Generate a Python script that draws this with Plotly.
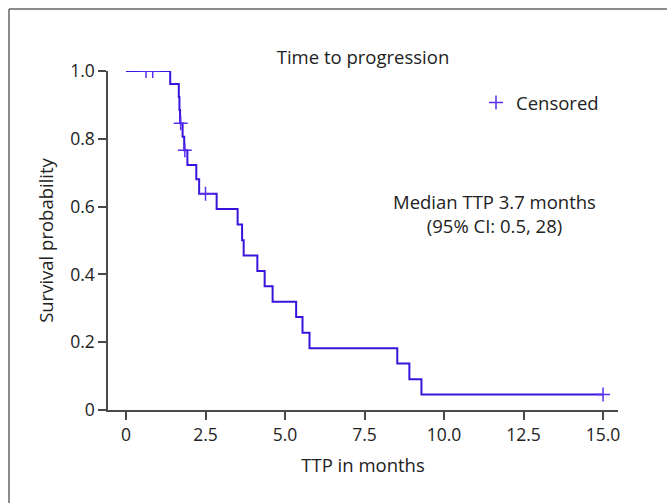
import plotly.graph_objects as go

# Kaplan-Meier step curve
step_times = [0, 1.39, 1.66, 1.68, 1.70, 1.78, 1.83, 1.93, 2.21, 2.30, 2.85, 3.51,
              3.65, 3.70, 4.13, 4.36, 4.61, 5.35, 5.55, 5.77, 8.53, 8.91, 9.29, 15.0]
step_surv = [1.0, 0.962, 0.923, 0.885, 0.846, 0.806, 0.766, 0.723, 0.681, 0.638, 0.593, 0.547,
             0.501, 0.456, 0.410, 0.365, 0.319, 0.274, 0.228, 0.182, 0.137, 0.091, 0.046, 0.046]

# Censored observations
cens_times = [0.63, 0.84, 1.72, 1.85, 2.5, 15.0]
cens_surv = [1.0, 1.0, 0.846, 0.766, 0.638, 0.046]

x_tickvals = [0, 2.5, 5.0, 7.5, 10.0, 12.5, 15.0]
x_ticktext = ["0", "2.5", "5.0", "7.5", "10.0", "12.5", "15.0"]
y_tickvals = [0, 0.2, 0.4, 0.6, 0.8, 1.0]
y_ticktext = ["0", "0.2", "0.4", "0.6", "0.8", "1.0"]

line_color = "#3a14dc"
cens_color = "#5a2ef0"
font_family = "Open Sans, Noto Sans, sans-serif"
txt = "#222222"
axis_col = "#4a4a4a"

W, H = 667, 503
L, T, R, B = 108, 71, 49, 93
PW, PH = W - L - R, H - T - B
AX_Y = H - B  # pixel row of x axis

fig = go.Figure()
fig.add_trace(go.Scatter(
    x=step_times, y=step_surv, mode="lines", line=dict(color=line_color, width=2, shape="hv"),
    showlegend=False, hoverinfo="skip"))
fig.add_trace(go.Scatter(
    x=cens_times, y=cens_surv, mode="markers", name="Censored",
    marker=dict(symbol="cross-thin", size=10, line=dict(color=cens_color, width=1.5)),
    showlegend=True))

frame_x0 = (9 - L) / PW
frame_x1 = (W - L) / PW
frame_y0 = -B / PH
frame_y1 = (AX_Y - 9) / PH

fig.update_layout(
    width=W, height=H,
    margin=dict(l=L, r=R, t=T, b=B, autoexpand=False),
    paper_bgcolor="white", plot_bgcolor="white",
    font=dict(family=font_family, size=17.5, color=txt),
    title=dict(text="Time to progression", x=363 / W, xanchor="center", y=1 - 58 / H, yanchor="middle",
               font=dict(size=18.5, color=txt)),
    xaxis=dict(range=[-0.566, 15.47], tickvals=x_tickvals, ticktext=x_ticktext,
               showgrid=False, zeroline=False, showline=True, linecolor=axis_col, linewidth=1.5,
               ticks="outside", ticklen=8, tickcolor=axis_col, tickwidth=1.5,
               title=dict(text="TTP in months", standoff=14, font=dict(size=18.5, color=txt))),
    yaxis=dict(range=[0, 1.0], tickvals=y_tickvals, ticktext=y_ticktext,
               showgrid=False, zeroline=False, showline=True, linecolor=axis_col, linewidth=1.5,
               ticks="outside", ticklen=8, tickcolor=axis_col, tickwidth=1.5,
               title=dict(text="Survival probability", standoff=12, font=dict(size=18.5, color=txt))),
    legend=dict(x=(476 - L) / PW, xanchor="left", y=(AX_Y - 103) / PH, yanchor="middle",
                bgcolor="rgba(0,0,0,0)", font=dict(size=18.5, color=txt), itemwidth=30),
    annotations=[dict(text="Median TTP 3.7 months<br>(95% CI: 0.5, 28)", xref="paper", yref="paper",
                      x=(494 - L) / PW, y=(AX_Y - 214) / PH, xanchor="center", yanchor="middle",
                      showarrow=False, font=dict(size=18.5, color=txt))],
    shapes=[
        dict(type="line", xref="paper", yref="paper", x0=frame_x0, x1=frame_x1, y0=frame_y1, y1=frame_y1,
             line=dict(color="#666666", width=1.5), layer="below"),
        dict(type="line", xref="paper", yref="paper", x0=frame_x0, x1=frame_x0, y0=frame_y0, y1=frame_y1,
             line=dict(color="#666666", width=1.5), layer="below"),
    ],
)

fig.write_html("out.html", config={"displayModeBar": False},
               post_script="document.body.style.margin='0';document.body.style.overflow='hidden';")
